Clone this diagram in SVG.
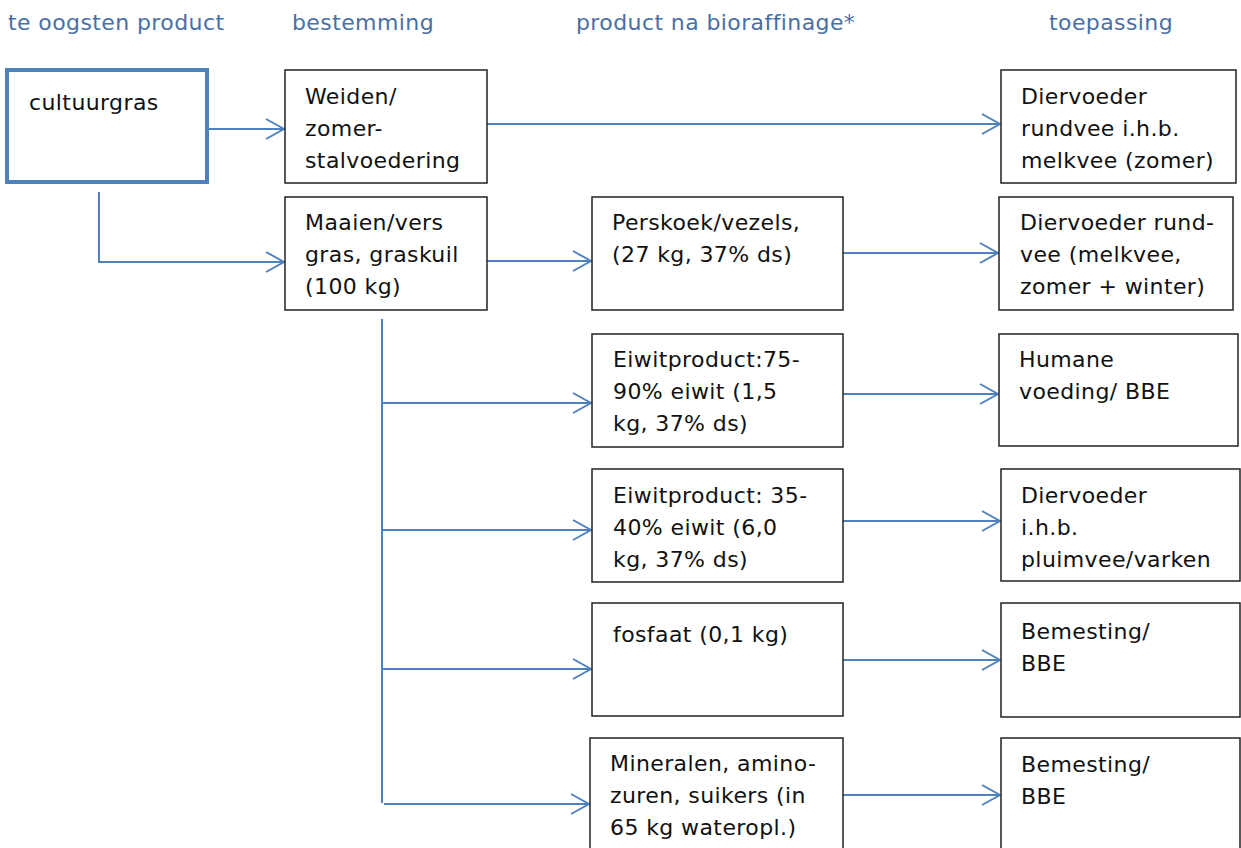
<svg xmlns="http://www.w3.org/2000/svg" width="1241" height="848" viewBox="0 0 1241 848">
<defs>
<marker id="arr" markerUnits="userSpaceOnUse" markerWidth="22" markerHeight="24" refX="20" refY="12" orient="auto">
<path d="M2,2 L20,12 L2,22" fill="none" stroke="#4f81bd" stroke-width="2"/>
</marker>
<style>
.hd{font-family:"DejaVu Sans",Verdana,sans-serif;font-size:22px;letter-spacing:0.4px;fill:#4a6fa3}
.t{font-family:"DejaVu Sans",Verdana,sans-serif;font-size:22px;letter-spacing:0.4px;fill:#111}
.box{fill:#fff;stroke:#222;stroke-width:1.5}
.c{fill:none;stroke:#4f81bd;stroke-width:2}
.ca{fill:none;stroke:#4f81bd;stroke-width:2;marker-end:url(#arr)}
</style>
</defs>
<rect width="1241" height="848" fill="#fff"/>
<g id="headers">
<text class="hd" x="8" y="30">te oogsten product</text>
<text class="hd" x="292" y="30">bestemming</text>
<text class="hd" x="576" y="30">product na bioraffinage*</text>
<text class="hd" x="1049" y="30">toepassing</text>
</g>
<g id="connectors">
<line class="ca" x1="209" y1="129" x2="284" y2="129"/>
<line class="ca" x1="487" y1="124" x2="1000" y2="124"/>
<polyline class="ca" points="99,192 99,262 284,262"/>
<line class="ca" x1="487" y1="261" x2="591" y2="261"/>
<line class="ca" x1="843" y1="253" x2="998" y2="253"/>
<line class="c" x1="382" y1="319" x2="382" y2="803"/>
<line class="ca" x1="382" y1="403" x2="591" y2="403"/>
<line class="ca" x1="382" y1="530" x2="591" y2="530"/>
<line class="ca" x1="382" y1="669" x2="591" y2="669"/>
<line class="ca" x1="384" y1="804" x2="589" y2="804"/>
<line class="ca" x1="843" y1="394" x2="998" y2="394"/>
<line class="ca" x1="843" y1="521" x2="1000" y2="521"/>
<line class="ca" x1="843" y1="660" x2="1000" y2="660"/>
<line class="ca" x1="843" y1="795" x2="1000" y2="795"/>
</g>
<g id="n-cultuurgras">
<rect x="7" y="70" width="200" height="112" fill="#fff" stroke="#4f81bd" stroke-width="4"/>
<text class="t" x="29" y="110">cultuurgras</text>
</g>
<g id="n-weiden">
<rect class="box" x="285" y="70" width="202" height="113"/>
<text class="t" x="305" y="104">Weiden/</text>
<text class="t" x="305" y="136">zomer-</text>
<text class="t" x="305" y="168">stalvoedering</text>
</g>
<g id="n-maaien">
<rect class="box" x="285" y="197" width="202" height="113"/>
<text class="t" x="305" y="230">Maaien/vers</text>
<text class="t" x="305" y="262">gras, graskuil</text>
<text class="t" x="305" y="294">(100 kg)</text>
</g>
<g id="n-perskoek">
<rect class="box" x="592" y="197" width="251" height="113"/>
<text class="t" x="612" y="230">Perskoek/vezels,</text>
<text class="t" x="612" y="262">(27 kg, 37% ds)</text>
</g>
<g id="n-eiwit1">
<rect class="box" x="592" y="334" width="251" height="113"/>
<text class="t" x="613" y="367">Eiwitproduct:75-</text>
<text class="t" x="613" y="399">90% eiwit (1,5</text>
<text class="t" x="613" y="431">kg, 37% ds)</text>
</g>
<g id="n-eiwit2">
<rect class="box" x="592" y="469" width="251" height="113"/>
<text class="t" x="613" y="503">Eiwitproduct: 35-</text>
<text class="t" x="613" y="535">40% eiwit (6,0</text>
<text class="t" x="613" y="567">kg, 37% ds)</text>
</g>
<g id="n-fosfaat">
<rect class="box" x="592" y="603" width="251" height="113"/>
<text class="t" x="613" y="642">fosfaat (0,1 kg)</text>
</g>
<g id="n-mineralen">
<rect class="box" x="590" y="738" width="253" height="115"/>
<text class="t" x="610" y="771">Mineralen, amino-</text>
<text class="t" x="610" y="803">zuren, suikers (in</text>
<text class="t" x="610" y="835">65 kg wateropl.)</text>
</g>
<g id="n-diervoeder-zomer">
<rect class="box" x="1001" y="70" width="235" height="113"/>
<text class="t" x="1021" y="104">Diervoeder</text>
<text class="t" x="1021" y="136">rundvee i.h.b.</text>
<text class="t" x="1021" y="168">melkvee (zomer)</text>
</g>
<g id="n-diervoeder-rund">
<rect class="box" x="999" y="197" width="234" height="113"/>
<text class="t" x="1020" y="230">Diervoeder rund-</text>
<text class="t" x="1020" y="262">vee (melkvee,</text>
<text class="t" x="1020" y="294">zomer + winter)</text>
</g>
<g id="n-humane">
<rect class="box" x="999" y="334" width="239" height="112"/>
<text class="t" x="1019" y="367">Humane</text>
<text class="t" x="1019" y="399">voeding/ BBE</text>
</g>
<g id="n-diervoeder-pluim">
<rect class="box" x="1001" y="469" width="239" height="112"/>
<text class="t" x="1021" y="503">Diervoeder</text>
<text class="t" x="1021" y="535">i.h.b.</text>
<text class="t" x="1021" y="567">pluimvee/varken</text>
</g>
<g id="n-bemesting1">
<rect class="box" x="1001" y="603" width="239" height="114"/>
<text class="t" x="1021" y="639">Bemesting/</text>
<text class="t" x="1021" y="671">BBE</text>
</g>
<g id="n-bemesting2">
<rect class="box" x="1001" y="738" width="239" height="115"/>
<text class="t" x="1021" y="772">Bemesting/</text>
<text class="t" x="1021" y="804">BBE</text>
</g>
</svg>
